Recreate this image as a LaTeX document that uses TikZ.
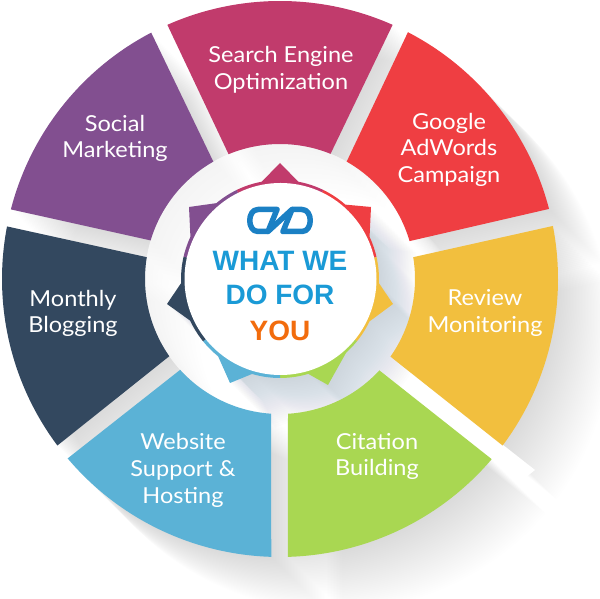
\documentclass[tikz,border=0pt]{standalone}
\usepackage{fontspec}
\setmainfont{Lato}[FakeStretch=1.07]
\newfontfamily\centrefont{Liberation Sans}
\definecolor{cCrimson}{HTML}{C13B6C}
\definecolor{cRed}{HTML}{EF3E42}
\definecolor{cYellow}{HTML}{F2BF3E}
\definecolor{cGreen}{HTML}{A9D752}
\definecolor{cBlue}{HTML}{5BB2D6}
\definecolor{cNavy}{HTML}{33485F}
\definecolor{cPurple}{HTML}{824F90}
\definecolor{cShade}{HTML}{5A6A78}
\definecolor{cTextBlue}{HTML}{1A9AD6}
\definecolor{cLogo}{HTML}{1B80C4}
\definecolor{cTextOrange}{HTML}{F26C0D}
\newcommand\segpath[4]{(#1:278pt) arc[start angle=#1,end angle=#2,radius=278pt] -- (#3:135pt) arc[start angle=#3,end angle=#4,radius=135pt] -- cycle}
\newcommand\starpath{(100.6:99pt) -- (0,116) -- (79.4:99pt) arc[start angle=79.4,end angle=48.7,radius=99pt] -- (91,72) -- (25.2:99pt) arc[start angle=25.2,end angle=-2.4,radius=99pt] -- (113,-25) -- (-25.4:99pt) arc[start angle=-25.4,end angle=-48.1,radius=99pt] -- (48,-106) -- (-73.4:99pt) arc[start angle=-73.4,end angle=-106.4,radius=99pt] -- (-50,-104) -- (-128.7:99pt) arc[start angle=-128.7,end angle=-155.1,radius=99pt] -- (-113,-25) -- (182.4:99pt) arc[start angle=182.4,end angle=154.8,radius=99pt] -- (-91,72) -- (130:99pt) arc[start angle=130,end angle=100.6,radius=99pt] -- cycle}
\tikzset{
  seglabel/.style={text=white,font=\fontsize{22}{24}\selectfont,anchor=base,inner sep=0pt},
  centrelabel/.style={font=\centrefont\bfseries\fontsize{28}{30}\selectfont,anchor=base,inner sep=0pt,text=cTextBlue},
  logostroke/.style={draw=#1,line width=5.5pt,line cap=round,line join=round}
}
\begin{document}
\begin{tikzpicture}[x=1pt,y=1pt]
\useasboundingbox (0,0) rectangle (600,599);
\fill[white] (0,0) rectangle (600,599);
\begin{scope}[shift={(280,320)}]
  % long shadows of the segments
  \foreach \a/\b/\c/\d in {113.9/66.1/68/112.4,62.6/14.6/16.3/60.4,11/-36.8/-35.1/9.3,-40.4/-88.4/-86.6/-42.6,268.2/220.2/222.3/266.2,216.8/169.1/170.7/214.9,165.5/117.6/119.6/163.4}{
    \foreach \k in {1,...,36}{
      \fill[cShade,fill opacity=0.005,shift={({1.5*\k},{-1.5*\k})}] \segpath{\a}{\b}{\c}{\d};
    }
  }
  % the hub hides most of those shadows
  \fill[white,fill opacity=0.7] (0,0) circle[radius=135pt];
\end{scope}
% white band between the yellow and green shadows
\fill[white] (391,242) -- (380,228) -- (520,117) -- (535,129) -- cycle;
\begin{scope}[shift={(280,320)}]
  % shadow of the central star
  \foreach \k in {1,...,30}{
    \fill[cShade,fill opacity=0.0065,shift={({1.5*\k},{-1.5*\k})}] \starpath;
  }
  % segments
  \fill[cCrimson] \segpath{113.9}{66.1}{68}{112.4};
  \fill[cRed] \segpath{62.6}{14.6}{16.3}{60.4};
  \fill[cYellow] \segpath{11}{-36.8}{-35.1}{9.3};
  \fill[cGreen] \segpath{-40.4}{-88.4}{-86.6}{-42.6};
  \fill[cBlue] \segpath{268.2}{220.2}{222.3}{266.2};
  \fill[cNavy] \segpath{216.8}{169.1}{170.7}{214.9};
  \fill[cPurple] \segpath{165.5}{117.6}{119.6}{163.4};
  % central star, coloured by sector
  \foreach \s/\e/\col in {116/64/cCrimson,64/12.8/cRed,12.8/-39/cYellow,-39/-90/cGreen,-90/-141/cBlue,-141/-193/cNavy,-193/-244/cPurple}{
    \begin{scope}
      \clip \starpath;
      \fill[\col] (0,0) -- (\s:135pt) arc[start angle=\s,end angle=\e,radius=135pt] -- cycle;
    \end{scope}
  }
  \fill[white] (0.5,0) circle[radius=96pt];
\end{scope}
% logo
\begin{scope}[shift={(0,599)},y=-1pt]
  \draw[logostroke=cLogo] (277,209.5) -- (258,209.5) .. controls (247,209.5) and (247,231.5) .. (258,231.5) -- (268,231.5) -- (277,209.5);
  \draw[logostroke=cLogo] (283,231.5) -- (302,231.5) .. controls (313,231.5) and (313,209.5) .. (302,209.5) -- (292,209.5) -- (283,231.5);
  \draw[logostroke=cLogo] (292,209.5) -- (268,231.5);
\end{scope}
% labels
\node[seglabel] (t1a) at (281,536) {Search Engine};
\node[seglabel] (t1b) at (281,509) {Optimization};
\node[seglabel] (t2a) at (449,469) {Google};
\node[seglabel] (t2b) at (449,443) {AdWords};
\node[seglabel] (t2c) at (449,416) {Campaign};
\node[seglabel] (t3a) at (485,293) {Review};
\node[seglabel] (t3b) at (485,266) {Monitoring};
\node[seglabel] (t4a) at (377,149) {Citation};
\node[seglabel] (t4b) at (377,123) {Building};
\node[seglabel] (t5a) at (183,149) {Website};
\node[seglabel] (t5b) at (183,122) {Support \&};
\node[seglabel] (t5c) at (183,95) {Hosting};
\node[seglabel] (t6a) at (73,292) {Monthly};
\node[seglabel] (t6b) at (73,266) {Blogging};
\node[seglabel] (t7a) at (115,467) {Social};
\node[seglabel] (t7b) at (115,441) {Marketing};
\node[centrelabel] (c1) at (280,328) {WHAT WE};
\node[centrelabel] (c2) at (280,294) {DO FOR};
\node[centrelabel,text=cTextOrange] (c3) at (280,258) {YOU};
\end{tikzpicture}
\end{document}
